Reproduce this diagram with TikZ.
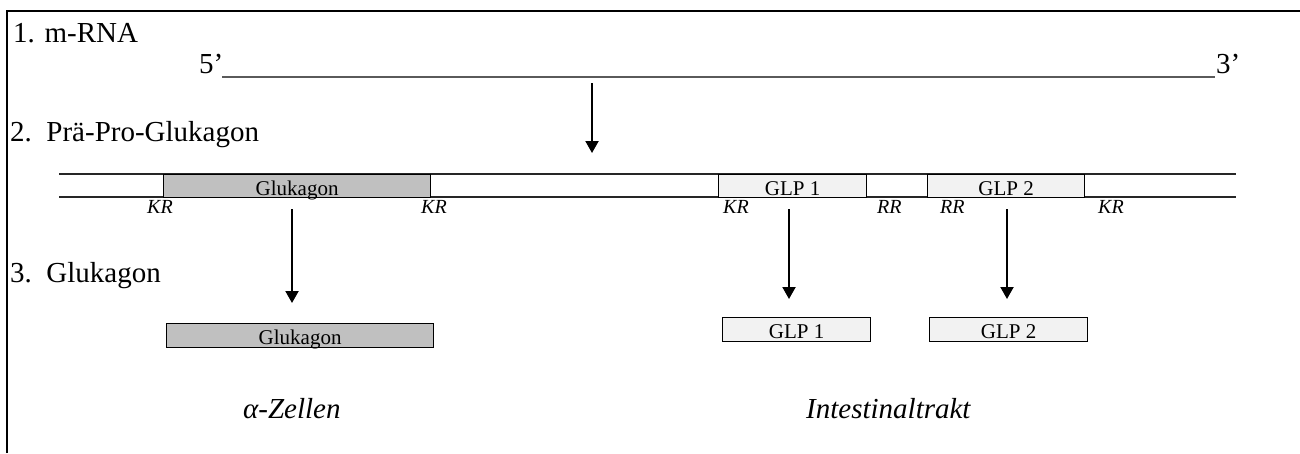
\documentclass[tikz,border=0pt]{standalone}
\usepackage{fontspec}
\setmainfont{Liberation Serif}
\usetikzlibrary{arrows.meta,positioning}
\definecolor{glucgray}{RGB}{192,192,192}
\definecolor{glplight}{RGB}{242,242,242}
\definecolor{rnagray}{RGB}{90,90,90}

\begin{document}
\begin{tikzpicture}[x=1pt,y=1pt,
  title/.style={anchor=base west,inner sep=0pt,font=\fontsize{29}{34}\selectfont},
  site/.style={anchor=base west,inner sep=0pt,font=\fontsize{20}{24}\selectfont\itshape},
  pep/.style={draw=black,line width=1.2pt,anchor=north west,inner sep=0pt,
    text height=18pt,text depth=0pt,font=\fontsize{21}{25}\selectfont},
  cut/.style={line width=2pt,-{Triangle[length=12pt,width=13pt]}}]
  \useasboundingbox (0,0) rectangle (1300,-453);
  % frame
  \draw[line width=2pt] (7,-453) -- (7,-11) -- (1300,-11);
  % 1. m-RNA
  \node[title] (lab1) at (13,-42) {1. m-RNA};
  \node[title] (five) at (199,-73) {5’};
  \node[title] (three) at (1216,-73) {3’};
  \coordinate (m5) at (222,-77);
  \coordinate (m3) at (1215,-77);
  \draw[rnagray,line width=2pt] (m5) -- (m3);
  \coordinate (tlA) at (592,-83);
  \coordinate (tlB) at (592,-153);
  \draw[cut] (tlA) -- (tlB);
  % 2. Prae-Pro-Glukagon
  \node[title] (lab2) at (10,-141) {2.~~Prä-Pro-Glukagon};
  \draw[black!85,line width=1.3pt] (59,-174) -- (1236,-174);
  \draw[black!85,line width=1.3pt] (59,-197) -- (1236,-197);
  \node[pep,fill=glucgray,minimum width=267pt,minimum height=23pt] (gluc) at (163,-174) {Glukagon};
  \node[pep,fill=glplight,minimum width=148pt,minimum height=23pt] (glpa) at (718,-174) {GLP 1};
  \node[pep,fill=glplight,minimum width=157pt,minimum height=23pt] (glpb) at (927,-174) {GLP 2};
  \node[site] (kr1) at (147,-213) {KR};
  \node[site] (kr2) at (421,-213) {KR};
  \node[site] (kr3) at (723,-213) {KR};
  \node[site] (rr1) at (877,-213) {RR};
  \node[site] (rr2) at (940,-213) {RR};
  \node[site] (kr4) at (1098,-213) {KR};
  % 3. Glukagon
  \node[title] (lab3) at (10,-282) {3.~~Glukagon};
  \node[pep,fill=glucgray,minimum width=267pt,minimum height=24pt] (glucout) at (166,-323) {Glukagon};
  \node[pep,fill=glplight,minimum width=148pt,minimum height=24pt] (glpaout) at (722,-317) {GLP 1};
  \node[pep,fill=glplight,minimum width=158pt,minimum height=24pt] (glpbout) at (929,-317) {GLP 2};
  \coordinate (c1) at (292,-209);
  \coordinate (c2) at (789,-209);
  \coordinate (c3) at (1007,-209);
  \draw[cut] (c1) -- (c1 |- 0,-303);
  \draw[cut] (c2) -- (c2 |- 0,-299);
  \draw[cut] (c3) -- (c3 |- 0,-299);
  % origin
  \node[title,font=\fontsize{29}{34}\selectfont\itshape] (alpha) at (243,-418) {α-Zellen};
  \node[title,font=\fontsize{29}{34}\selectfont\itshape] (gut) at (806,-418) {Intestinaltrakt};
\end{tikzpicture}
\end{document}
